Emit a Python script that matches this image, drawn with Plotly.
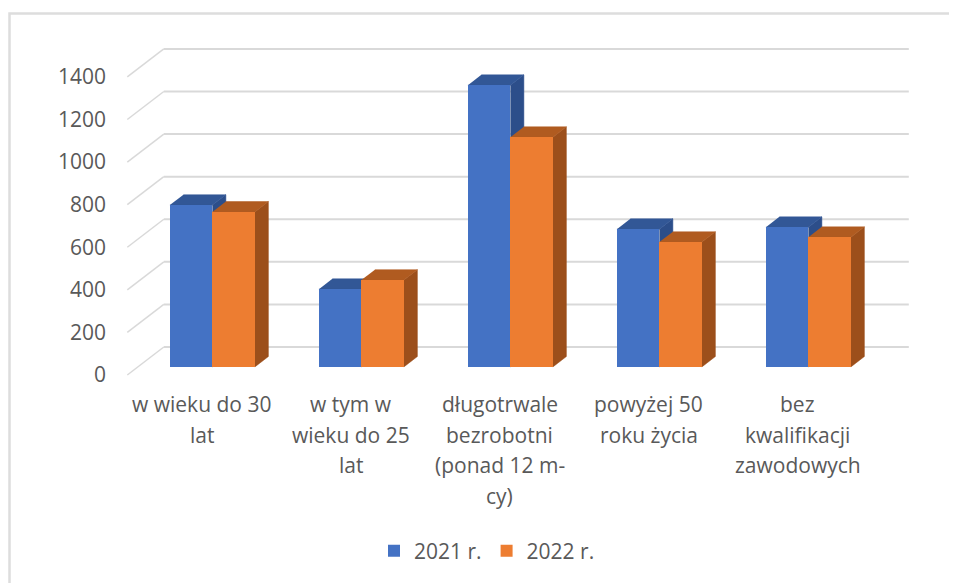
import plotly.graph_objects as go

categories = [
    ["w wieku do 30", "lat"],
    ["w tym w", "wieku do 25", "lat"],
    ["długotrwale", "bezrobotni", "(ponad 12 m-", "cy)"],
    ["powyżej 50", "roku życia"],
    ["bez", "kwalifikacji", "zawodowych"],
]
series_names = ["2021 r.", "2022 r."]
values_2021 = [760, 365, 1323, 647, 656]
values_2022 = [728, 408, 1079, 586, 609]
y_ticks = [0, 200, 400, 600, 800, 1000, 1200, 1400]

PAGE = 8                             # the page's own margin round the figure
W, H = 957 - PAGE, 583 - PAGE
FONT = "Open Sans"
FS = 21
TEXT = "#595959"
GRID = "#D9D9D9"
FRONT = ["#4472C4", "#ED7D31"]
TOP = ["#325796", "#B05B20"]
SIDE = ["#2C4E8A", "#9C4F1B"]

# Scales: pixels per category and per value unit (figure pixels)
PX_CAT, PX_VAL = 149.0, 0.2129
X0_PX, Y0_PX = 201.8 - PAGE, 375.0 - PAGE   # category 0 / value 0 on the front floor edge
DEPTH_X, DEPTH_Y = 36.5, 28.0        # shift of the back wall
D0, D1 = 0.29, 0.66                  # depth span of the bars
BAR_W = 42.5 / PX_CAT

L, R, T, B = 125.0 - PAGE, 911.0 - PAGE, 44.0 - PAGE, 378.0 - PAGE
x_range = [(L - X0_PX) / PX_CAT, (R - X0_PX) / PX_CAT]
y_range = [(Y0_PX - B) / PX_VAL, (Y0_PX - T) / PX_VAL]


def project(x, v, d):
    return x + d * DEPTH_X / PX_CAT, v + d * DEPTH_Y / PX_VAL


def paper_x(px):
    return (px - PAGE - L) / (R - L)


def paper_y(py):
    return (B - (py - PAGE)) / (B - T)


fig = go.Figure()

# Gridlines: floor diagonal + back wall line
gx, gy, dx, dy = [], [], [], []
left, right = -0.5, len(categories) - 0.5
for t in y_ticks:
    a = project(left, t, 0)
    b = project(left, t, 1)
    c = project(right, t, 1)
    dx += [a[0], b[0], None]
    dy += [a[1], b[1], None]
    gx += [b[0], c[0], None]
    gy += [b[1], c[1], None]
fig.add_trace(go.Scatter(x=dx, y=dy, mode="lines", line=dict(color=GRID, width=1.5),
                         showlegend=False, hoverinfo="skip"))
fig.add_trace(go.Scatter(x=gx, y=gy, mode="lines", line=dict(color=GRID, width=2),
                         showlegend=False, hoverinfo="skip"))

# Depth faces: blue first, then orange
for s, vals in enumerate([values_2021, values_2022]):
    for i, v in enumerate(vals):
        xl = i - BAR_W + s * BAR_W
        xr = xl + BAR_W
        side = [project(xr, 0, D0), project(xr, 0, D1), project(xr, v, D1), project(xr, v, D0)]
        top = [project(xl, v, D0), project(xr, v, D0), project(xr, v, D1), project(xl, v, D1)]
        for pts, col in ((side, SIDE[s]), (top, TOP[s])):
            fig.add_trace(go.Scatter(
                x=[p[0] for p in pts], y=[p[1] for p in pts],
                mode="lines", fill="toself", fillcolor=col,
                line=dict(color=col, width=0.5),
                showlegend=False, hoverinfo="skip"))

# Front faces: real bars on an overlaid axis pair so they sit above the depth faces
base_x, base_v = project(0, 0, D0)
for s, vals in enumerate([values_2021, values_2022]):
    fig.add_trace(go.Bar(
        x=[i + base_x for i in range(len(categories))],
        y=vals, base=base_v,
        width=BAR_W, offset=-BAR_W + s * BAR_W,
        marker=dict(color=FRONT[s], line=dict(width=0)),
        name=series_names[s], xaxis="x2", yaxis="y2"))

# Category labels, one annotation per line for the reference's wide line spacing
LINE_PX, FIRST_PX = 30.5, 404.0
annotations = []
for i, lines in enumerate(categories):
    for n, text in enumerate(lines):
        annotations.append(dict(
            x=i, y=paper_y(FIRST_PX + n * LINE_PX), xref="x", yref="paper",
            text=text, showarrow=False, xanchor="center", yanchor="middle",
            font=dict(family=FONT, size=FS, color=TEXT)))

frame = dict(type="path", xref="paper", yref="paper",
             path=f"M {paper_x(9.5)} {paper_y(583)} L {paper_x(9.5)} {paper_y(13.5)} L {paper_x(957)} {paper_y(13.5)}",
             line=dict(color="#DDDDDD", width=2.5))

axis_common = dict(showgrid=False, zeroline=False, showline=False)
fig.update_layout(
    width=W, height=H, autosize=False,
    margin=dict(l=L, r=W - R, t=T, b=H - B, pad=0),
    paper_bgcolor="white", plot_bgcolor="rgba(0,0,0,0)",
    barmode="overlay", bargap=0,
    font=dict(family=FONT, color=TEXT, size=FS),
    xaxis=dict(range=x_range, showticklabels=False, ticks="", **axis_common),
    yaxis=dict(range=y_range, tickvals=y_ticks, ticks="", ticklabelstandoff=18,
               tickfont=dict(family=FONT, size=FS, color=TEXT), **axis_common),
    xaxis2=dict(range=x_range, overlaying="x", visible=False),
    yaxis2=dict(range=y_range, overlaying="y", visible=False),
    legend=dict(orientation="h", x=paper_x(374), y=paper_y(551), xanchor="left", yanchor="middle",
                font=dict(family=FONT, size=FS, color=TEXT), bgcolor="rgba(0,0,0,0)"),
    annotations=annotations,
    shapes=[frame],
)

fig.write_html("out.html", default_width=f"{W}px", default_height=f"{H}px")
